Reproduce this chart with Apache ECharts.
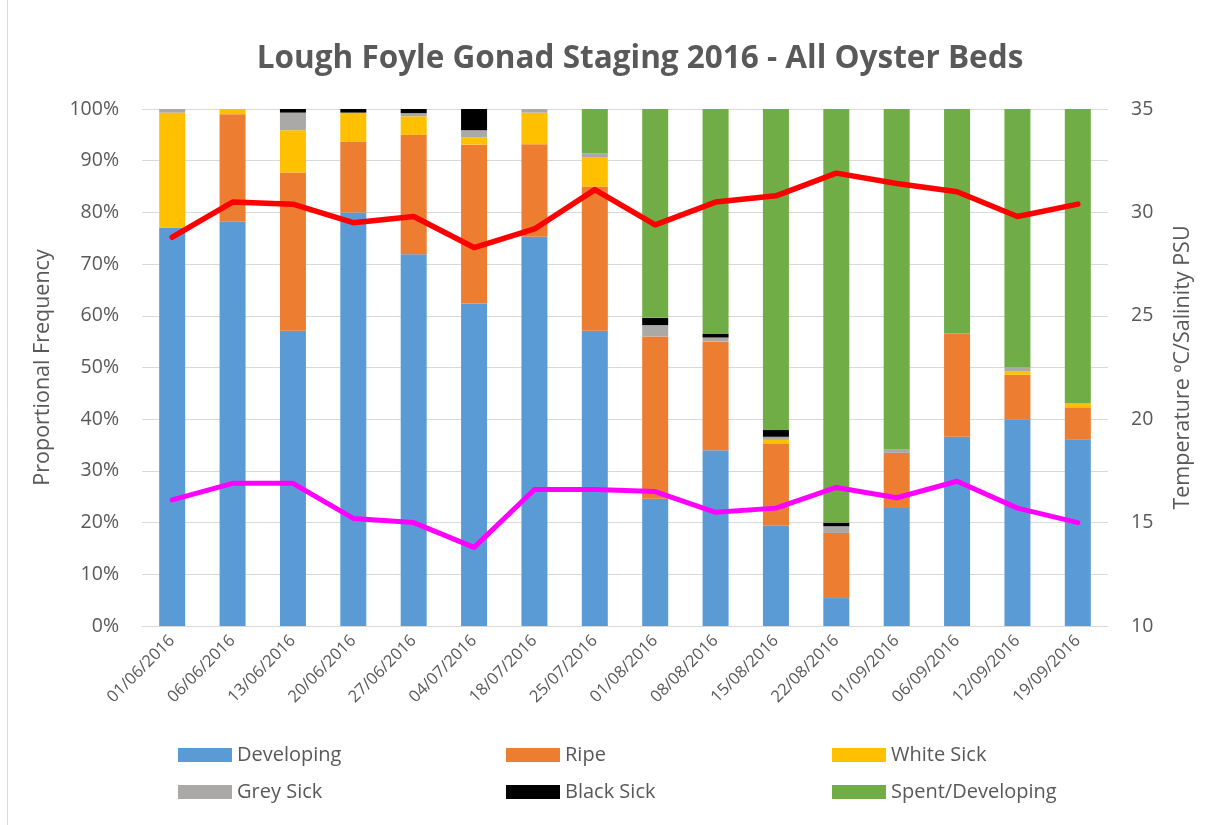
<!DOCTYPE html>
<html>
<head>
<meta charset="utf-8">
<script src="https://cdn.jsdelivr.net/npm/echarts@6/dist/echarts.min.js"></script>
<style>
html,body{margin:0;padding:0;background:#fff;}
#chart{width:1206px;height:825px;}
</style>
</head>
<body>
<div id="chart"></div>
<script>
var categories = ['01/06/2016','06/06/2016','13/06/2016','20/06/2016','27/06/2016','04/07/2016','18/07/2016','25/07/2016','01/08/2016','08/08/2016','15/08/2016','22/08/2016','01/09/2016','06/09/2016','12/09/2016','19/09/2016'];
var developing = [77.1, 78.2, 57.1, 80.0, 71.9, 62.4, 75.3, 57.1, 24.6, 34.0, 19.4, 5.4, 22.8, 36.6, 40.0, 36.1];
var ripe       = [0, 20.8, 30.6, 13.7, 23.1, 30.7, 17.9, 27.9, 31.4, 21.0, 15.8, 12.6, 10.7, 20.0, 8.6, 6.2];
var whiteSick  = [22.2, 1.0, 8.2, 5.6, 3.6, 1.4, 6.1, 5.7, 0, 0, 0.8, 0, 0, 0, 0.7, 0.8];
var greySick   = [0.7, 0, 3.4, 0, 0.6, 1.4, 0.7, 0.7, 2.2, 0.8, 0.6, 1.3, 0.7, 0, 0.7, 0];
var blackSick  = [0, 0, 0.7, 0.7, 0.8, 4.1, 0, 0, 1.4, 0.7, 1.3, 0.7, 0, 0, 0, 0];
var spent      = [0, 0, 0, 0, 0, 0, 0, 8.6, 40.4, 43.5, 62.1, 80.0, 65.8, 43.4, 50.0, 56.9];
var salinity    = [28.8, 30.5, 30.4, 29.5, 29.8, 28.3, 29.2, 31.1, 29.4, 30.5, 30.8, 31.9, 31.4, 31.0, 29.8, 30.4];
var temperature = [16.1, 16.9, 16.9, 15.2, 15.0, 13.8, 16.6, 16.6, 16.5, 15.5, 15.7, 16.7, 16.2, 17.0, 15.7, 15.0];
var leftTicks = [0, 100, 10];
var rightTicks = [10, 35, 5];

var FONT = "'Open Sans', sans-serif";
var TXT = '#595959';
var chart = echarts.init(document.getElementById('chart'), null, {renderer: 'canvas'});

var stackNames = ['Developing','Ripe','White Sick','Grey Sick','Black Sick','Spent/Developing'];
var stackData = [developing, ripe, whiteSick, greySick, blackSick, spent];
var stackColors = ['#5B9BD5','#ED7D31','#FFC000','#ABA9A8','#000000','#70AD47'];

var series = stackNames.map(function(n, i){
  return {
    name: n, type: 'bar', stack: 'all', data: stackData[i], barWidth: 26,
    itemStyle: {color: stackColors[i]}, z: 2
  };
});
series.push({name: 'Salinity', type: 'line', yAxisIndex: 1, data: salinity, symbol: 'none',
  lineStyle: {color: '#FF0000', width: 5.5, cap: 'round', join: 'round'}, z: 5});
series.push({name: 'Temperature', type: 'line', yAxisIndex: 1, data: temperature, symbol: 'none',
  lineStyle: {color: '#FF00FF', width: 5, cap: 'round', join: 'round'}, z: 5});

var legendPos = [[178,745],[506,745],[832,745],[178,782],[506,782],[832,782]];
var legends = stackNames.map(function(n, i){
  return {data: [n], left: legendPos[i][0], top: legendPos[i][1], padding: 0, icon: 'rect', itemWidth: 54, itemHeight: 14, itemGap: 5,
    textStyle: {fontFamily: FONT, fontSize: 20, color: TXT, padding: [0,0,0,0]}, selectedMode: false};
});

var option = {
  animation: false,
  backgroundColor: '#fff',
  title: {text: 'Lough Foyle Gonad Staging 2016 - All Oyster Beds', left: 635, top: 38, textAlign: 'center',
    textStyle: {fontFamily: FONT, fontSize: 31.5, fontWeight: 'bold', color: TXT}},
  legend: legends,
  grid: {left: 142, right: 98, top: 109, bottom: 199, containLabel: false},
  xAxis: {type: 'category', data: categories,
    axisLine: {lineStyle: {color: '#D9D9D9', width: 1}}, axisTick: {show: false},
    axisLabel: {rotate: 45, fontFamily: FONT, fontSize: 16.5, color: TXT, margin: 12, interval: 0}},
  yAxis: [
    {type: 'value', min: leftTicks[0], max: leftTicks[1], interval: leftTicks[2],
     name: 'Proportional Frequency', nameLocation: 'middle', nameGap: 88, nameRotate: 90,
     nameTextStyle: {fontFamily: FONT, fontSize: 21.5, color: TXT},
     axisLine: {show: false}, axisTick: {show: false},
     axisLabel: {formatter: '{value}%', fontFamily: FONT, fontSize: 19.5, color: TXT, margin: 23},
     splitLine: {lineStyle: {color: '#D9D9D9', width: 1}}},
    {type: 'value', min: rightTicks[0], max: rightTicks[1], interval: rightTicks[2],
     name: 'Temperature ºC/Salinity PSU', nameLocation: 'middle', nameGap: 64, nameRotate: 90,
     nameTextStyle: {fontFamily: FONT, fontSize: 21.5, color: TXT},
     axisLine: {show: false}, axisTick: {show: false},
     axisLabel: {fontFamily: FONT, fontSize: 19.5, color: TXT, margin: 23},
     splitLine: {show: false}}
  ],
  graphic: [{type: 'line', shape: {x1: 7.5, y1: 0, x2: 7.5, y2: 825}, style: {stroke: '#D9D9D9', lineWidth: 1}}],
  series: series
};
chart.setOption(option);
</script>
</body>
</html>
